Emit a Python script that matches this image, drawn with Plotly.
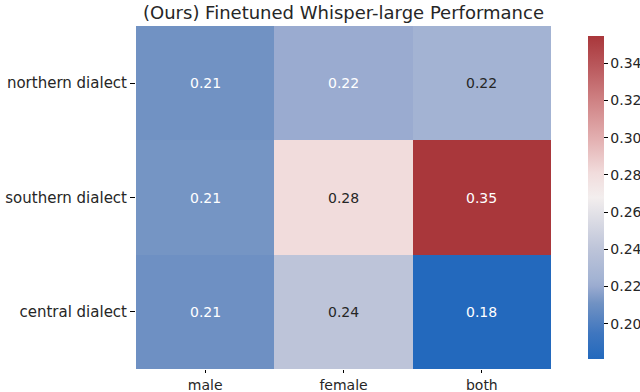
import plotly.graph_objects as go

# data
speakers = ["male", "female", "both"]
dialects = ["northern dialect", "southern dialect", "central dialect"]
northern = [0.211, 0.220, 0.224]
southern = [0.212, 0.281, 0.3547]
central = [0.210, 0.240, 0.181]
cbar_ticks = [0.20, 0.22, 0.24, 0.26, 0.28, 0.30, 0.32, 0.34]

z = [northern, southern, central]
zmin = min(min(r) for r in z)
zmax = max(max(r) for r in z)

# approx seaborn "vlag"
vlag = [
    [0.0, "#2369bd"],
    [0.08, "#3f76bf"],
    [0.173, "#7192c3"],
    [0.225, "#9aabd0"],
    [0.248, "#a3b3d3"],
    [0.34, "#bdc4d9"],
    [0.45, "#e2e1e7"],
    [0.5, "#f3eeee"],
    [0.576, "#f1dcdc"],
    [0.68, "#e3b0b1"],
    [0.80, "#cf8284"],
    [0.91, "#b9575b"],
    [1.0, "#a9373b"],
]

fnt = "DejaVu Sans"

fig = go.Figure(go.Heatmap(
    z=z, x=speakers, y=dialects,
    zmin=zmin, zmax=zmax,
    colorscale=vlag,
    xgap=0, ygap=0,
    hoverinfo="skip",
    colorbar=dict(
        thickness=16, len=1.0, lenmode="fraction",
        x=1.065, xanchor="left", y=0.5, yanchor="middle",
        outlinewidth=0,
        tickvals=cbar_ticks, ticktext=[f"{t:.2f}" for t in cbar_ticks],
        ticks="outside", ticklen=4, tickcolor="black",
        tickfont=dict(family=fnt, size=14, color="#262626"),
    ),
))

# cell labels, white on dark cells like seaborn does
for yi, row in enumerate(z):
    for xi, v in enumerate(row):
        col = "white" if (v < 0.222 or v > 0.33) else "#262626"
        fig.add_annotation(x=speakers[xi], y=dialects[yi], text=f"{v:.2f}",
                           showarrow=False,
                           font=dict(family=fnt, size=14, color=col))

fig.update_layout(
    width=640, height=392,
    margin=dict(l=136, r=89, t=26, b=23, autoexpand=False),
    paper_bgcolor="white", plot_bgcolor="white",
    title=dict(text="(Ours) Finetuned Whisper-large Performance",
               x=(136 + 551) / 2 / 640, xanchor="center",
               y=1 - 13 / 392, yanchor="middle",
               font=dict(family=fnt, size=18, color="#262626")),
    font=dict(family=fnt, color="#262626"),
)
fig.update_xaxes(showgrid=False, zeroline=False, showline=False,
                 ticks="outside", ticklen=3, tickcolor="black",
                 tickfont=dict(family=fnt, size=14, color="#262626"))
fig.update_yaxes(autorange="reversed", showgrid=False, zeroline=False, showline=False,
                 ticks="outside", ticklen=5, tickcolor="black",
                 tickfont=dict(family=fnt, size=15, color="#262626"))

# drop the default 8px body margin so the figure sits at 0,0
fig.write_html("out.html", config={"displayModeBar": False},
               post_script="document.body.style.margin='0';")
